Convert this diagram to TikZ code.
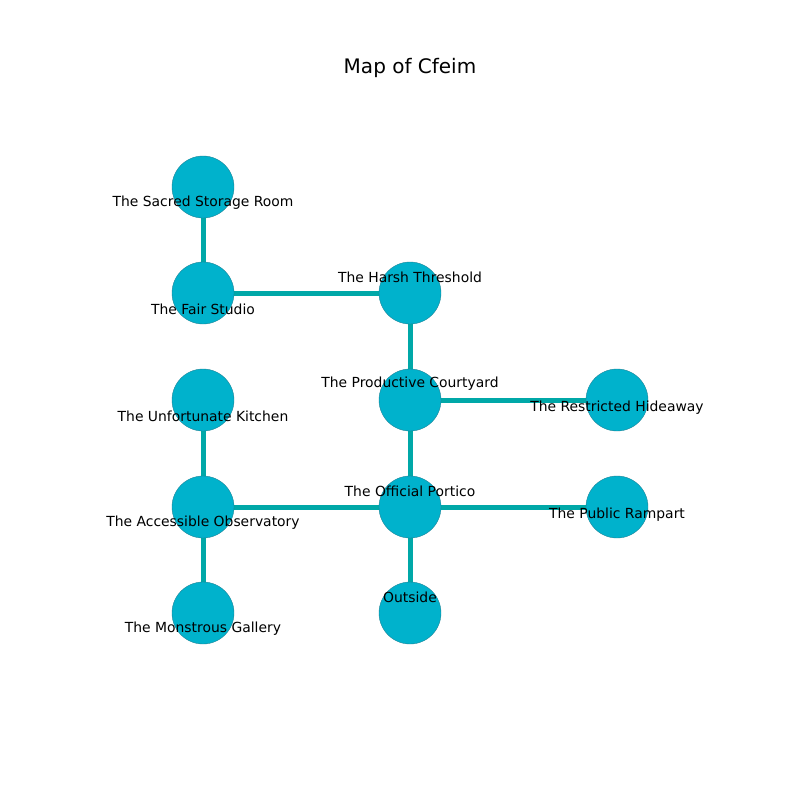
\documentclass[tikz,border=0pt]{standalone}
\usepackage{fontspec}
\setmainfont{DejaVu Sans}
\definecolor{nodefill}{RGB}{0,178,204}
\definecolor{nodeline}{RGB}{30,130,150}
\definecolor{edgecol}{RGB}{0,168,168}
\tikzset{
  room/.style={circle,draw=nodeline,line width=0.4pt,fill=nodefill,minimum size=62pt,inner sep=0pt},
  link/.style={draw=edgecol,line width=5pt},
  lbl/.style={font=\fontsize{13.9}{16}\selectfont,inner sep=0pt,anchor=center}
}
\begin{document}
\begin{tikzpicture}[x=1pt,y=-1pt]
\useasboundingbox (0,0) rectangle (800,800);
\node[font=\fontsize{20}{24}\selectfont] (title) at (410,68) {Map of Cfeim};
% coordinates of rooms
\coordinate (pS) at (203,187);
\coordinate (pF) at (203,293);
\coordinate (pH) at (410,293);
\coordinate (pP) at (410,400);
\coordinate (pR) at (617,400);
\coordinate (pU) at (203,400);
\coordinate (pA) at (203,507);
\coordinate (pO) at (410,507);
\coordinate (pB) at (617,507);
\coordinate (pM) at (203,613);
\coordinate (pX) at (410,613);
% edges
\draw[link] (pS) -- (pF);
\draw[link] (pF) -- (pH);
\draw[link] (pH) -- (pP);
\draw[link] (pP) -- (pR);
\draw[link] (pP) -- (pO);
\draw[link] (pU) -- (pA);
\draw[link] (pA) -- (pO);
\draw[link] (pO) -- (pB);
\draw[link] (pA) -- (pM);
\draw[link] (pO) -- (pX);
% nodes
\node[room] (S) at (pS) {};
\node[room] (F) at (pF) {};
\node[room] (H) at (pH) {};
\node[room] (P) at (pP) {};
\node[room] (R) at (pR) {};
\node[room] (U) at (pU) {};
\node[room] (A) at (pA) {};
\node[room] (O) at (pO) {};
\node[room] (B) at (pB) {};
\node[room] (M) at (pM) {};
\node[room] (X) at (pX) {};
% labels
\node[lbl] (lS) at (203,203) {The Sacred Storage Room};
\node[lbl] (lF) at (203,309) {The Fair Studio};
\node[lbl] (lH) at (410,277) {The Harsh Threshold};
\node[lbl] (lP) at (410,384) {The Productive Courtyard};
\node[lbl] (lR) at (617,408) {The Restricted Hideaway};
\node[lbl] (lU) at (203,416) {The Unfortunate Kitchen};
\node[lbl] (lA) at (203,523) {The Accessible Observatory};
\node[lbl] (lO) at (410,491) {The Official Portico};
\node[lbl] (lB) at (617,515) {The Public Rampart};
\node[lbl] (lM) at (203,629) {The Monstrous Gallery};
\node[lbl] (lX) at (410,597) {Outside};
\end{tikzpicture}
\end{document}
